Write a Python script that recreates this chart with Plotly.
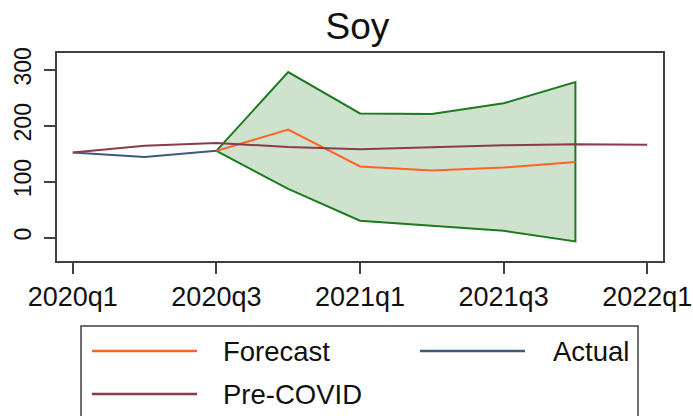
import plotly.graph_objects as go

# ---- data ----
quarters = ["2020q1", "2020q2", "2020q3", "2020q4", "2021q1",
            "2021q2", "2021q3", "2021q4", "2022q1"]
actual_q = ["2020q1", "2020q2", "2020q3"]
actual = [152, 144, 155]
precovid_q = quarters
precovid = [152, 164, 169, 162, 158, 162, 165, 167, 166]
fc_q = ["2020q3", "2020q4", "2021q1", "2021q2", "2021q3", "2021q4"]
forecast = [155, 193, 127, 120, 125, 135]
upper = [155, 296, 222, 221, 240, 278]
lower = [155, 87, 30, 21, 12, -7]
tick_labels = ["2020q1", "2020q3", "2021q1", "2021q3", "2022q1"]
y_ticks = [0, 100, 200, 300]

idx = {q: i for i, q in enumerate(quarters)}
FONT = "Liberation Sans, Arial, sans-serif"

C_FC = "#ff6326"
C_ACT = "#3b5b7d"
C_PRE = "#8b3b4b"
C_BAND = "#1e7a1e"
C_FILL = "rgba(30,122,30,0.22)"

W, H = 693, 416
L, R, T, B = 57, 663, 53, 261

fig = go.Figure()

band_x = [idx[q] for q in fc_q] + [idx[q] for q in reversed(fc_q)]
band_y = upper + list(reversed(lower))
fig.add_trace(go.Scatter(x=band_x, y=band_y, mode="lines", fill="toself",
                         fillcolor=C_FILL, line=dict(color=C_BAND, width=2),
                         showlegend=False, hoverinfo="skip"))
fig.add_trace(go.Scatter(x=[idx[q] for q in fc_q], y=forecast, mode="lines",
                         name="Forecast", line=dict(color=C_FC, width=2)))
fig.add_trace(go.Scatter(x=[idx[q] for q in actual_q], y=actual, mode="lines",
                         name="Actual", line=dict(color=C_ACT, width=2)))
fig.add_trace(go.Scatter(x=[idx[q] for q in precovid_q], y=precovid, mode="lines",
                         name="Pre-COVID", line=dict(color=C_PRE, width=2)))


def px(x):
    return (x - L) / (R - L)


def py(y):
    return (B - y) / (B - T)


shapes = []
annotations = []
# legend box
shapes.append(dict(type="rect", xref="paper", yref="paper",
                   x0=px(81), x1=px(638), y0=py(440), y1=py(326),
                   line=dict(color="#404040", width=1.5), fillcolor="white", layer="above"))
legend_items = [("Forecast", C_FC, 92, 197, 221, 351),
                ("Actual", C_ACT, 420, 525, 551, 351),
                ("Pre-COVID", C_PRE, 92, 197, 221, 394)]
for name, col, x0, x1, tx, yy in legend_items:
    shapes.append(dict(type="line", xref="paper", yref="paper",
                       x0=px(x0), x1=px(x1), y0=py(yy), y1=py(yy),
                       line=dict(color=col, width=2.5)))
    annotations.append(dict(text=name, xref="paper", yref="paper",
                            x=px(tx), y=py(yy), xanchor="left", yanchor="middle",
                            showarrow=False, font=dict(family=FONT, size=27.5, color="#111")))

fig.update_layout(
    width=W, height=H,
    margin=dict(l=L, r=W - R, t=T, b=H - B, autoexpand=False),
    paper_bgcolor="white", plot_bgcolor="white",
    showlegend=False,
    title=dict(text="Soy", x=357.5 / W, xref="container", xanchor="center",
               y=1 - 26 / H, yref="container", yanchor="middle",
               font=dict(family=FONT, size=37, color="#111")),
    xaxis=dict(range=[-0.22, 8.22], tickvals=[idx[q] for q in tick_labels],
               ticktext=tick_labels, showgrid=False, zeroline=False, automargin=False,
               showline=True, mirror=True, linecolor="#404040", linewidth=1.5,
               ticks="outside", ticklen=11, tickwidth=1.5, tickcolor="#404040",
               tickfont=dict(family=FONT, size=27, color="#111")),
    yaxis=dict(range=[-42, 330], tickvals=y_ticks, showgrid=False, zeroline=False,
               automargin=False,
               showline=True, mirror=True, linecolor="#404040", linewidth=1.5,
               ticks="outside", ticklen=11, tickwidth=1.5, tickcolor="#404040",
               tickangle=-90, ticklabelstandoff=4,
               tickfont=dict(family=FONT, size=23, color="#111")),
    shapes=shapes, annotations=annotations,
)

fig.write_html("out.html")
